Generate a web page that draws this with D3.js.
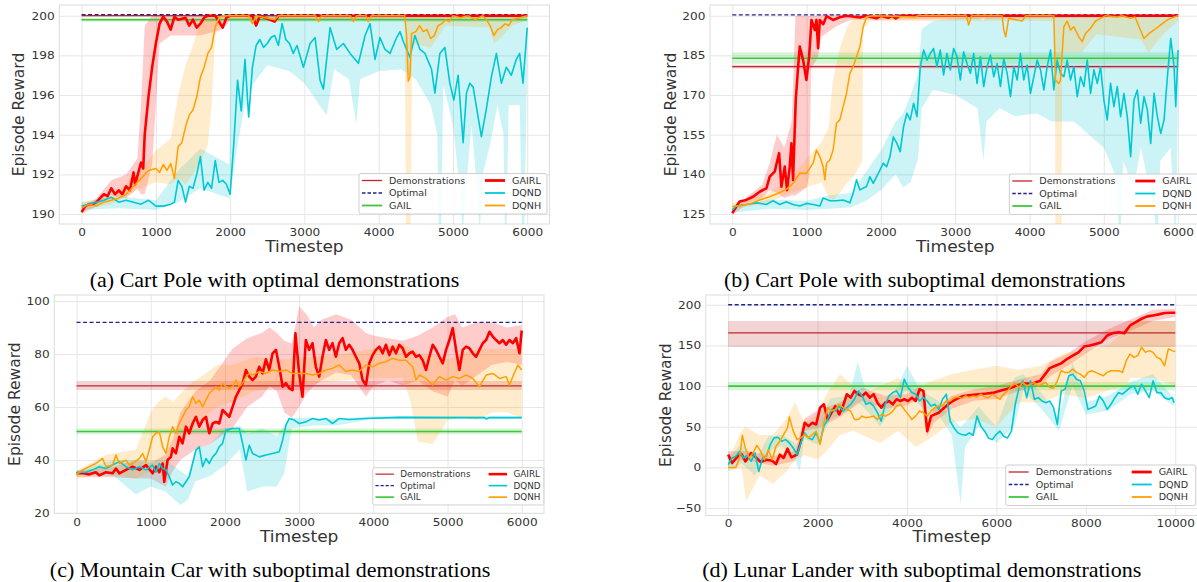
<!DOCTYPE html>
<html>
<head>
<meta charset="utf-8">
<script src="https://cdn.jsdelivr.net/npm/d3@7"></script>
<style>
  body { margin: 0; background: #fff; }
  svg { display: block; }
</style>
</head>
<body>
<div id="chart"></div>
<script>
// Four panels: episode reward vs timestep for GAIRL and baselines

var W = 1197, H = 582;
var SX = 1.1; // the source figure is a little stretched sideways

// ---------- (a) Cart Pole, optimal demos ----------
var cpOptDemo = [200.0, 199.96, 200.04];
var cpOptOptimal = 200.05;
var cpOptGail = [199.8, 199.7, 199.9];

var cpOptGairl = [[0,190.1],[50,190.4],[100,190.5],[150,190.5],[200,190.6],[250,190.8],[300,191.0],[350,190.9],[400,191.3],[450,191.0],[500,191.2],[550,191.0],[600,191.4],[650,191.2],[700,192.1],[720,191.5],[750,191.9],[800,192.6],[830,192.3],[850,194.0],[900,195.9],[950,197.4],[1000,198.6],[1050,199.6],[1100,199.95],[1150,199.7],[1200,199.3],[1250,199.95],[1300,199.8],[1400,199.9],[1450,199.5],[1500,199.8],[1550,199.4],[1600,199.6],[1650,199.9],[1700,200],[1800,200],[1850,199.7],[1900,199.4],[1950,199.9],[2000,200],[2300,200],[2350,199.5],[2400,200],[2600,199.7],[2650,200],[6000,200]];
var cpOptGairlBand = [[0,190.0,190.3],[200,190.4,190.8],[400,190.9,191.7],[600,190.8,192.0],[750,191.3,192.8],[800,191.0,195.5],[850,191.0,199.5],[950,192.5,200.0],[1000,195.5,200.0],[1050,198.6,200.0],[1200,199.0,200.0],[1600,199.0,200.0],[1900,199.3,200.0],[2000,199.8,200.05],[6000,199.9,200.05]];

var cpOptDqnh = [[0,190.3],[100,190.5],[200,190.4],[300,190.6],[400,190.7],[500,190.8],[600,191.0],[700,191.4],[800,191.8],[900,192.2],[1000,192.3],[1050,192.1],[1100,192.5],[1150,192.2],[1200,192.55],[1250,191.8],[1300,193.4],[1350,193.6],[1400,194.4],[1450,195.0],[1500,195.25],[1550,195.9],[1600,196.9],[1650,197.4],[1700,198.1],[1750,198.4],[1800,199.45],[1850,199.9],[1900,200],[2250,200],[2300,199.6],[2350,200],[2600,199.8],[2650,200],[3150,200],[3190,199.7],[3230,200],[3620,200],[3660,199.7],[3700,200],[3830,200],[3860,199.7],[3900,200],[4350,200],[4376,199.0],[4398,196.7],[4420,196.9],[4443,199.1],[4500,199.2],[4550,199.5],[4600,199.2],[4650,199.3],[4700,198.85],[4750,199.0],[4800,199.5],[4850,199.6],[4900,199.8],[4950,199.7],[5000,200],[5100,199.9],[5200,200],[5300,199.8],[5400,200],[5450,199.8],[5500,199.5],[5550,199.0],[5600,199.3],[5650,199.4],[5700,199.6],[5750,199.5],[5800,199.8],[5900,199.9],[6000,200]];
var cpOptDqnhBand = [[0,190.2,190.6],[400,190.5,190.9],[800,191.3,192.2],[1000,191.6,193.2],[1200,191.5,193.8],[1300,191.8,196.0],[1400,191.5,197.5],[1500,192.0,198.5],[1600,192.6,199.8],[1700,193.5,200],[1750,195.5,200],[1800,199.0,200],[1900,199.8,200.05],[4350,199.8,200.05],[4370,189,200.05],[4430,189,200.05],[4450,198.6,200.05],[4700,198.4,200],[4900,199.5,200],[5500,199.4,200],[5550,198.6,200],[5650,198.9,200],[5800,199.5,200],[6000,199.8,200.05]];

var cpOptDqnd = [[0,190.4],[100,190.5],[200,190.6],[300,190.7],[400,190.85],[500,190.6],[600,190.7],[700,190.6],[800,190.5],[900,190.7],[1000,190.4],[1100,190.4],[1200,190.5],[1250,190.6],[1300,191.7],[1350,191.4],[1400,190.6],[1450,191.4],[1500,191.3],[1550,192.0],[1600,192.9],[1650,191.2],[1700,191.6],[1750,191.3],[1800,192.7],[1850,191.6],[1900,191.7],[1950,191.5],[2000,191.0],[2050,193.6],[2100,196.75],[2150,195.2],[2200,197.8],[2250,194.9],[2300,197.4],[2350,198.5],[2400,198.8],[2450,198.4],[2500,198.6],[2550,198.9],[2600,199.0],[2650,198.5],[2700,199.6],[2750,198.8],[2800,198.6],[2850,198.1],[2900,198.5],[2987,197.4],[3077,198.6],[3144,198.9],[3211,196.75],[3256,196.3],[3346,199.4],[3435,198.3],[3525,198.6],[3615,198.1],[3727,197.6],[3817,199.0],[3884,199.6],[3951,197.8],[4018,198.9],[4085,198.3],[4153,198.1],[4242,198.9],[4287,199.2],[4332,198.7],[4421,197.9],[4488,199.0],[4556,198.3],[4623,198.1],[4712,197.3],[4757,196.1],[4824,198.1],[4891,198.4],[4958,196.6],[5012,195.75],[5070,197.0],[5137,193.6],[5182,196.1],[5227,196.6],[5272,196.4],[5316,195.4],[5383,193.9],[5450,195.3],[5517,196.9],[5585,198.1],[5652,196.6],[5719,197.4],[5786,197.0],[5853,197.8],[5898,198.1],[5943,196.6],[6000,199.4]];
var cpOptDqndBand = [[0,190.2,190.6],[500,190.3,190.9],[1000,190.2,190.7],[1300,190.6,192.2],[1600,191.3,193.3],[1990,190.8,192.5],[2000,191.0,199.9],[2100,193.5,199.9],[2200,195.5,199.9],[2300,196.5,200],[2500,197.5,200],[2800,197.2,200],[3000,196.6,200],[3200,195.5,199.8],[3300,195.0,200],[3400,197.3,200],[3600,196.8,200],[3700,194.5,200],[3750,196.8,200],[4000,197.2,200],[4300,197.3,200],[4500,196.8,200],[4700,195.5,200],[4790,194,200],[4810,189,200],[4840,189,200],[4870,196.5,200],[5000,194.5,200],[5100,191,200],[5130,189,200],[5160,190.5,200],[5250,194.5,200],[5330,191,200],[5360,189,200],[5400,192,200],[5500,193.5,200],[5600,195.5,200],[5680,194,200],[5700,189,200],[5720,189,200],[5750,195.5,200],[5900,195.5,200],[5930,189,200],[5960,189,200],[6000,197.5,200]];

// ---------- (b) Cart Pole, suboptimal demos ----------
var cpSubDemo = [180.7, 180.0, 181.4];
var cpSubOptimal = 200.3;
var cpSubGail = [183.9, 181.8, 186.2];

var cpSubGairl = [[0,125.3],[54,127.8],[99,129.7],[189,130.3],[279,131.5],[369,133.4],[459,134.7],[504,139.1],[571,141],[630,148],[661,135.3],[706,142.9],[737,134],[773,142.9],[796,151.7],[818,137.9],[854,168.1],[886,180.7],[908,188.3],[953,183.2],[998,175.7],[1034,184.5],[1066,198.4],[1111,194.6],[1133,198.4],[1155,187.7],[1178,198.4],[1223,196.8],[1268,199.8],[1357,198.4],[1447,199.4],[1537,200],[1717,199.3],[1800,200],[1942,199],[2000,200],[2100,199.2],[2150,200],[2200,199],[2260,200],[6000,200]];
var cpSubGairlBand = [[0,124.5,126.5],[200,129,131.5],[400,131,136],[500,134,144],[600,133,155],[700,131,150],[800,132,160],[850,132,200],[1000,135,200],[1040,140,200],[1060,180,200],[1150,184,200],[1200,192,200.5],[1400,196,200.5],[1600,198.5,200.5],[2000,198.5,200.5],[6000,199.5,200.5]];

var cpSubDqnh = [[0,127.8],[99,128.1],[234,128.8],[369,130.3],[504,131.5],[639,133.1],[728,134.3],[818,136.6],[908,140.4],[998,140.4],[1088,144.2],[1133,149.2],[1178,146.7],[1223,142.9],[1245,137.9],[1268,144.2],[1313,145.4],[1357,149.2],[1402,159.3],[1447,160.6],[1492,165.6],[1537,170.6],[1582,178.2],[1627,180.7],[1672,184.5],[1717,188.3],[1762,195.8],[1807,199.6],[1900,200],[2462,199.5],[2500,200],[3150,200],[3181,196.5],[3220,200],[3630,200],[3654,194.6],[3680,192],[3720,199],[3900,198],[3950,200],[4327,200],[4349,175.7],[4394,174.4],[4417,175.5],[4462,195.8],[4507,198],[4552,194.6],[4597,195.8],[4664,192],[4709,190.2],[4754,193.3],[4821,195.2],[4888,198],[4956,199],[5024,200],[5181,199.5],[5250,200],[5361,199],[5420,199.5],[5474,195.8],[5541,191.4],[5609,193.3],[5676,194.6],[5766,196.5],[5856,198.4],[5946,199.5],[6000,200]];
var cpSubDqnhBand = [[0,126.5,129],[500,129.5,133],[800,133,139],[1000,135,146],[1200,137,152],[1300,131,158],[1350,130,175],[1450,133,188],[1550,137,196],[1650,140,200],[1750,145,200],[1760,195,200.5],[1850,198,200.5],[4340,198,200.5],[4350,110,200.5],[4430,110,200.5],[4440,186,200.5],[4700,186,199],[4900,193,200.5],[5500,191,200],[5600,186,199.5],[5800,193,200.5],[6000,198,200.5]];

var cpSubDqnd = [[0,126.5],[54,128],[189,128.6],[324,129.2],[459,128.6],[549,130],[639,128.6],[728,129.6],[818,128.6],[908,128],[998,129],[1088,128.6],[1178,128],[1223,131],[1313,130],[1402,130],[1492,130.3],[1582,129.2],[1627,132.8],[1672,137.9],[1717,134.1],[1807,135.4],[1852,139.1],[1897,136.6],[1987,141.6],[2032,144.2],[2077,142.9],[2122,146.7],[2167,154.2],[2215,151.7],[2260,148.6],[2305,158],[2350,163.1],[2395,160.6],[2440,166.9],[2485,161.8],[2530,180.7],[2575,187],[2620,183.2],[2665,185.7],[2709,187.6],[2754,180.7],[2799,187],[2844,177.6],[2889,185.7],[2934,179.5],[2979,187.6],[3024,184.5],[3069,175.7],[3114,186.3],[3159,181.9],[3204,178.2],[3249,185.7],[3294,174.4],[3339,184.5],[3384,173.2],[3429,180.7],[3474,185.1],[3519,176.9],[3564,181.9],[3609,173.2],[3654,183.8],[3699,178.2],[3744,169.4],[3789,180.7],[3834,175.7],[3878,185.7],[3923,175.7],[3968,181.3],[4013,170.6],[4058,176.9],[4103,183.2],[4148,179.5],[4193,171.9],[4238,180.7],[4283,187],[4327,171.9],[4372,183.2],[4417,178.2],[4462,176.9],[4507,183.2],[4552,175.7],[4597,180.7],[4642,169.4],[4687,176.9],[4732,173.2],[4777,183.2],[4822,170.6],[4867,179.5],[4912,174.4],[4956,180.7],[5001,168.1],[5046,160.6],[5091,174.4],[5136,165.6],[5181,173.2],[5226,161.8],[5271,170.6],[5316,161.8],[5361,146.7],[5406,168.1],[5451,171.9],[5496,159.3],[5541,169.4],[5586,164.4],[5631,151.7],[5676,170.6],[5721,161.8],[5766,155.5],[5811,160.6],[5856,176.9],[5901,191.4],[5946,180.7],[5968,165.6],[6000,187]];
var cpSubDqndBand = [[0,125.5,127.5],[500,127,130.5],[1000,126.5,130],[1300,127,132],[1600,127.5,133],[1800,130,141],[2000,134,149],[2200,140,160],[2300,135,163],[2400,137,170],[2500,146,178],[2550,165,195],[2700,172,198],[3000,170,199],[3300,165,200],[3380,145,198],[3420,160,200],[3600,165,200],[3800,162,200],[4100,163,200],[4300,160,200],[4600,160,200],[4800,155,200],[5000,150,200],[5150,140,200],[5200,121,200],[5230,121,200],[5260,145,200],[5400,135,200],[5500,150,200],[5650,130,200],[5700,121,200],[5730,121,200],[5760,145,200],[5900,150,200],[5950,121,200],[5975,121,200],[6000,170,200]];

// ---------- (c) Mountain Car, suboptimal demos ----------
var mcDemo = [68.0, 66.4, 69.8];
var mcOptimal = 92.0;
var mcGail = [50.8, 49.7, 51.9];

var mcGairl = [[0,35.0],[81,35.1],[171,34.6],[261,35.4],[306,34.2],[396,35.4],[486,35.0],[531,36.8],[576,35.0],[666,36.3],[756,37.5],[846,36.3],[936,38.1],[1025,35.0],[1070,37.5],[1115,35.4],[1160,38.7],[1182,31.8],[1227,40],[1272,41.2],[1294,44.4],[1339,42.6],[1384,48.8],[1429,46.3],[1474,52.6],[1519,50.1],[1564,53.8],[1609,56.3],[1654,52.6],[1699,55.1],[1744,56.3],[1789,50.1],[1834,53.8],[1879,54.4],[1923,53.8],[1968,58.9],[2013,57.6],[2058,56.3],[2103,60.1],[2148,63.9],[2193,66.4],[2238,68.9],[2283,74],[2328,71.5],[2372,70.2],[2417,71.5],[2462,75.2],[2507,72.7],[2552,78],[2597,74],[2642,80.3],[2687,81.6],[2732,75.2],[2777,67.7],[2822,69],[2867,67.1],[2911,66.4],[2950,87.8],[3000,72.7],[3045,63.9],[3090,85.3],[3135,81.6],[3180,84.1],[3225,75.2],[3270,71.5],[3315,79],[3360,85.3],[3405,81.6],[3450,84.1],[3495,79],[3540,84.1],[3585,86],[3630,81.6],[3675,83.5],[3720,81.6],[3765,79],[3810,76.5],[3855,70.2],[3900,68.3],[3945,76.5],[3990,79.6],[4035,81.6],[4080,82.8],[4125,80.3],[4170,83.5],[4215,79.6],[4260,82.8],[4305,80.3],[4350,83.5],[4395,82.2],[4440,79],[4485,80.3],[4530,80.9],[4575,79],[4620,79.6],[4665,77.7],[4710,74],[4755,79],[4800,83.5],[4845,81.6],[4890,79],[4935,76.5],[4980,81.6],[5025,85.3],[5070,89.8],[5115,81.6],[5160,74],[5205,81.6],[5250,82.8],[5295,82.2],[5340,80.3],[5385,79],[5430,81.6],[5475,84.1],[5520,85.3],[5565,88.4],[5610,86.6],[5655,85.3],[5700,84.1],[5745,85.3],[5790,83.5],[5835,85.3],[5880,84.1],[5925,86],[5970,80.3],[6000,88.9]];
var mcGairlBand = [[0,33.5,36],[500,33.5,37.5],[800,33,40],[1000,33,39],[1200,30,42],[1300,36,48],[1400,40,58],[1500,42,62],[1600,44,66],[1700,45,68],[1800,46,70],[1900,48,74],[2000,50,78],[2100,52,82],[2200,56,84],[2300,60,86],[2400,62,87],[2500,64,88],[2600,68,90],[2700,66,88],[2800,58,85],[2900,56,84],[3000,60,98],[3100,65,95],[3200,68,90],[3300,70,93],[3500,73,95],[3700,72,93],[3900,64,88],[4000,68,87],[4200,70,86],[4400,68,85],[4600,70,87],[4800,66,90],[5000,64,94],[5100,70,95],[5200,68,90],[5400,72,92],[5600,76,92],[5800,77,90],[6000,76,91]];

var mcDqnh = [[0,34.4],[81,36.3],[171,37.5],[261,38.7],[351,40.6],[396,37.5],[486,38.1],[531,41.9],[576,38.7],[666,40],[711,38.1],[756,38.7],[846,40.6],[891,42.5],[936,39.4],[980,43.8],[1025,48.8],[1070,50.1],[1115,50.7],[1160,45],[1205,42.5],[1250,48.8],[1294,52.6],[1339,50.1],[1384,53.8],[1429,56.3],[1474,58.9],[1519,60.1],[1564,63.9],[1609,61.4],[1654,62.6],[1699,60.1],[1744,62.6],[1789,65.2],[1834,66.4],[1879,67.7],[1923,66.4],[1968,69],[2013,67.7],[2058,67.1],[2103,67.7],[2148,70.2],[2193,67.7],[2238,69],[2283,71.5],[2328,72.7],[2372,72.1],[2462,73.4],[2552,72.7],[2642,74],[2732,73.4],[2822,74],[2911,72.7],[3000,72.7],[3090,72.7],[3180,72.1],[3270,72.7],[3360,74],[3450,74.6],[3540,75.9],[3630,73.4],[3720,74],[3810,73.4],[3900,75.9],[3990,75.2],[4080,76.5],[4170,77.1],[4260,78.4],[4350,77.7],[4440,77.7],[4530,75.2],[4575,70.2],[4620,72.1],[4710,70.8],[4800,68.3],[4890,71.5],[4980,70.2],[5070,71.5],[5160,70.8],[5250,72.1],[5340,70.8],[5430,67.7],[5520,72.1],[5610,72.7],[5700,70.8],[5790,71.5],[5835,68.3],[5880,71.5],[5947,75.9],[6000,74]];
var mcDqnhBand = [[0,33,36],[400,35,42],[800,33,44],[1000,36,58],[1100,37,62],[1200,38,64],[1300,42,62],[1500,50,68],[1700,56,72],[1900,60,76],[2100,62,76],[2400,66,79],[2800,68,78],[3200,69,79],[3600,70,80],[4000,71,82],[4400,71,84],[4500,62,82],[4600,47,80],[4800,46,80],[5000,55,78],[5200,56,80],[5400,55,82],[5600,58,82],[5800,58,82],[6000,56,82]];

var mcDqnd = [[0,35.4],[126,35.4],[216,36.3],[306,37.5],[396,36.8],[486,38.1],[576,39.4],[666,37.5],[756,36.3],[846,37.5],[936,36.3],[1025,38.1],[1070,35.4],[1115,38.7],[1160,36.8],[1205,36.3],[1250,33.7],[1294,30.6],[1339,31.8],[1384,31.2],[1429,29.9],[1474,31.8],[1519,33.7],[1564,38.7],[1609,43.8],[1654,45],[1699,37.5],[1744,40.6],[1789,38.7],[1834,41.2],[1879,42.5],[1923,45],[1968,46.3],[2013,51.3],[2103,51.9],[2193,51.9],[2238,46.3],[2283,40],[2328,45.6],[2372,42.5],[2462,41.2],[2552,41.9],[2642,42.5],[2732,43.1],[2777,47.5],[2822,53.2],[2867,55.7],[2934,55.1],[3000,53.8],[3090,54.4],[3180,55.7],[3270,55.1],[3360,55.7],[3450,53.8],[3540,55.7],[3675,55.3],[3900,55.7],[4350,56.1],[5000,56.0],[5500,56.0],[5520,55.5],[5560,56.0],[6000,56.0]];
var mcDqndBand = [[0,34.5,36],[500,34,40],[800,27,40],[1000,30,40],[1200,28,40],[1400,23,36],[1500,25,34],[1600,32,44],[1800,34,46],[2000,38,52],[2200,44,53],[2300,28,50],[2500,30,52],[2700,30,49],[2800,35,53],[2900,52,56],[3200,53,56],[3500,53,55.5],[4000,55.5,56.5],[6000,55.5,56.5]];

// ---------- (d) Lunar Lander, suboptimal demos ----------
var llDemo = [165.5, 148, 180];
var llOptimal = 200;
var llGail = [100, 95, 105];

var llGairl = [[0,15.7],[86,5.4],[214,13.6],[300,16.5],[385,7.4],[514,17.7],[599,13.6],[728,6.6],[856,9.5],[985,8.3],[1070,4.1],[1156,15.7],[1241,11.6],[1327,23.1],[1413,12.4],[1541,15.7],[1627,32.2],[1712,54.9],[1798,50.8],[1884,54.9],[1969,52.8],[2055,73.5],[2141,77.6],[2226,59],[2312,67.3],[2397,75.5],[2483,65.2],[2569,75.5],[2654,90],[2740,85.8],[2825,94.1],[2911,90],[2997,87.9],[3082,92],[3168,85.8],[3254,90],[3339,79.6],[3425,73.5],[3510,79.6],[3596,81.7],[3682,77.6],[3767,83.8],[3853,81.7],[3938,83.8],[4024,81.7],[4110,85.8],[4195,81.7],[4281,96.1],[4367,94.1],[4452,44.6],[4538,63.1],[4623,65.2],[4709,67.3],[4795,71.4],[4880,75.5],[4966,79.6],[5052,82.5],[5137,85],[5266,87.9],[5437,89.1],[5608,90],[5779,90.8],[5951,92],[6122,94.9],[6293,97.4],[6464,101.1],[6636,103.2],[6807,103.2],[6978,106.5],[7063,112.7],[7192,122.1],[7320,125],[7449,127.9],[7577,133.3],[7706,137.4],[7834,141.5],[7963,148.6],[8091,149.8],[8220,151.9],[8348,153.9],[8477,162.2],[8605,165.1],[8733,166.3],[8862,165.1],[8990,174.5],[9118,178.7],[9247,182.8],[9375,185.7],[9504,186.9],[9632,188.2],[9761,189.8],[9889,190.2],[10000,190.2]];
var llGairlBand = [[0,10,20],[500,8,20],[1000,2,14],[1500,8,20],[1700,45,60],[2000,48,70],[2500,62,80],[3000,82,98],[3500,72,88],[4000,76,90],[4300,85,100],[4450,38,55],[4600,55,72],[5000,72,88],[5500,82,96],[6000,84,100],[6500,94,108],[7000,100,115],[7200,112,130],[7600,125,140],[8000,140,155],[8500,158,170],[9000,168,182],[9500,180,194],[10000,185,195]];

var llDqnd = [[0,3.3],[86,11.6],[171,13.6],[257,19.8],[342,11.6],[428,14.9],[514,7.4],[599,17.7],[685,-5],[770,11.6],[856,13.6],[942,28.1],[1027,36.3],[1113,37.1],[1199,32.2],[1284,34.2],[1370,30.1],[1456,23.9],[1541,15.7],[1627,30.1],[1712,42.5],[1798,36.3],[1884,34.2],[1969,42.5],[2055,30.1],[2141,50.8],[2226,59],[2312,71.4],[2397,69.3],[2483,75.5],[2569,69.3],[2654,73.5],[2740,77.6],[2825,83.8],[2911,94.1],[2997,87.9],[3082,77.6],[3168,79.6],[3254,75.5],[3339,67.3],[3425,56.9],[3510,77.6],[3596,87.9],[3682,92],[3767,94.1],[3853,85.8],[3938,108.5],[4024,98.2],[4110,92],[4195,90],[4281,81.7],[4367,85.8],[4452,81.7],[4538,75.5],[4623,77.6],[4709,71.4],[4795,83.8],[4880,90],[4966,56.9],[5052,48.7],[5137,42.5],[5223,40.4],[5309,39.6],[5394,42.5],[5480,39.6],[5566,63.1],[5651,50.8],[5737,44.6],[5822,36.3],[5908,34.2],[5993,40.4],[6079,44.6],[6164,38.4],[6250,36.3],[6336,44.6],[6421,77.6],[6507,98.2],[6593,106.5],[6678,85.8],[6764,106.5],[6849,83.8],[6935,85.8],[7021,81.7],[7106,79.6],[7192,81.7],[7278,73.5],[7363,52.8],[7449,94.1],[7534,96.1],[7620,112.7],[7706,114.7],[7791,108.5],[7877,106.5],[7963,94.1],[8048,71.4],[8134,73.5],[8220,75.5],[8305,87.9],[8391,81.7],[8477,71.4],[8562,77.6],[8648,85.8],[8733,92],[8819,90],[8905,94.1],[8990,98.2],[9076,100.3],[9161,90],[9247,102.3],[9333,94.1],[9418,85.8],[9504,106.5],[9589,92],[9675,92],[9761,85.8],[9846,83.8],[9932,85.8],[9975,79.6]];
var llDqndBand = [[0,-3,10],[300,5,30],[600,-10,8],[900,20,38],[1200,26,40],[1500,10,30],[1600,-5,25],[1700,35,50],[2000,28,55],[2300,60,85],[2700,70,88],[2900,80,130],[3100,70,90],[3400,50,70],[3800,85,100],[4000,95,125],[4300,75,95],[4700,65,82],[5000,40,60],[5200,-45,50],[5300,25,55],[5600,50,75],[6000,30,50],[6400,50,110],[6600,95,115],[7000,72,92],[7400,45,62],[7700,100,130],[8000,65,80],[8500,70,88],[9000,90,105],[9500,95,115],[9975,75,85]];

var llDqnh = [[0,0],[86,0],[171,0],[257,11.6],[317,39.6],[385,23.9],[471,11.6],[557,17.7],[642,27.2],[728,19.8],[813,9.5],[899,21.9],[985,9.5],[1070,26],[1156,32.2],[1241,40.4],[1327,48.7],[1370,61.9],[1456,44.6],[1541,34.2],[1627,36.3],[1712,40.4],[1798,36.3],[1884,40.4],[1969,44.6],[2055,28.1],[2141,54.9],[2226,73.5],[2312,69.3],[2397,71.4],[2483,77.6],[2569,73.5],[2654,71.4],[2740,69.3],[2825,59],[2911,59],[2997,63.1],[3082,61.1],[3168,61.9],[3254,63.1],[3339,59],[3425,65.2],[3510,63.1],[3596,65.2],[3682,69.3],[3767,75.5],[3853,77.6],[3938,71.4],[4024,65.2],[4110,59],[4195,63.1],[4281,69.3],[4367,67.3],[4452,63.1],[4538,69.3],[4623,73.5],[4709,75.5],[4795,75.5],[4880,81.7],[4966,81.7],[5052,85.8],[5137,86.7],[5223,85],[5309,87.9],[5394,85.8],[5480,87.9],[5566,86.7],[5651,90],[5737,86.7],[5822,85.8],[5908,90],[5993,86.7],[6079,83.8],[6164,90],[6250,94.1],[6336,100.3],[6421,103.2],[6507,98.2],[6593,104.4],[6678,100.3],[6764,102.3],[6849,104.4],[6935,100.3],[7021,102.3],[7106,104.4],[7192,98.2],[7278,97.4],[7363,106.5],[7449,118.8],[7534,116.8],[7620,116.8],[7706,120.9],[7791,116.8],[7877,114.7],[7963,110.6],[8048,116.8],[8134,118.8],[8220,116.8],[8305,114.7],[8391,112.7],[8477,116.8],[8562,118.8],[8648,118.8],[8733,118.8],[8819,116.8],[8905,131.2],[8990,139.5],[9076,135.3],[9161,137.4],[9247,147.7],[9333,141.5],[9418,143.6],[9504,141.5],[9589,135.3],[9675,133.3],[9761,125],[9846,145.7],[9932,143.6],[10000,142.4]];
var llDqnhBand = [[0,-5,10],[300,0,45],[400,-42,50],[700,-10,40],[1000,-20,40],[1300,-5,60],[1500,10,80],[1700,15,55],[2000,10,65],[2200,20,90],[2500,40,115],[2800,45,100],[3000,40,90],[3400,30,100],[3800,45,110],[4200,25,95],[4500,35,105],[5000,55,115],[5500,60,120],[6000,50,125],[6500,80,120],[7000,80,125],[7500,90,140],[8000,85,145],[8500,95,150],[8900,100,170],[9000,110,180],[9500,110,180],[10000,100,180]];

// ---------- ticks, labels ----------
var cpTicksX = [0, 1000, 2000, 3000, 4000, 5000, 6000];
var llTicksX = [0, 2000, 4000, 6000, 8000, 10000];
var cpOptTicksY = [190, 192, 194, 196, 198, 200];
var cpSubTicksY = [125, 140, 155, 170, 185, 200];
var mcTicksY = [20, 40, 60, 80, 100];
var llTicksY = [-50, 0, 50, 100, 150, 200];

var captions = [
    "(a) Cart Pole with optimal demonstrations",
    "(b) Cart Pole with suboptimal demonstrations",
    "(c) Mountain Car with suboptimal demonstrations",
    "(d) Lunar Lander with suboptimal demonstrations"
];
var legendLeft = ["Demonstrations", "Optimal", "GAIL"];
var legendRight = ["GAIRL", "DQND", "DQNH"];

var colors = {
    demo: "#c0272d",
    optimal: "#23238e",
    gail: "#3cc83c",
    gairl: "#ff0000",
    dqnd: "#00c8d2",
    dqnh: "#ffa000"
};

// layout of each panel (pixels), data pulled from the arrays above
var panels = [
    { box: {l: 59.3, r: 549.5, t: 5, b: 224}, xDom: [-300, 6300], yDom: [189.5, 200.54], tmax: 6000,
      xTicks: cpTicksX, yTicks: cpOptTicksY,
      demo: cpOptDemo, optimal: cpOptOptimal, gail: cpOptGail,
      gairl: cpOptGairl, gairlBand: cpOptGairlBand, dqnd: cpOptDqnd, dqndBand: cpOptDqndBand, dqnh: cpOptDqnh, dqnhBand: cpOptDqnhBand,
      ylabX: 18, tickY: 236, xlabY: 252, cap: captions[0], capX: 274.5, capY: 287,
      legend: {x: 359, y: 173.5, w: 188, s: 1} },
    { box: {l: 710, r: 1200.4, t: 5, b: 224}, xDom: [-300, 6300], yDom: [121.2, 204.05], tmax: 6000,
      xTicks: cpTicksX, yTicks: cpSubTicksY,
      demo: cpSubDemo, optimal: cpSubOptimal, gail: cpSubGail,
      gairl: cpSubGairl, gairlBand: cpSubGairlBand, dqnd: cpSubDqnd, dqndBand: cpSubDqndBand, dqnh: cpSubDqnh, dqnhBand: cpSubDqnhBand,
      ylabX: 670, tickY: 236, xlabY: 252, cap: captions[1], capX: 924.7, capY: 287,
      legend: {x: 1009.3, y: 174, w: 192, s: 1} },
    { box: {l: 54.3, r: 544, t: 295, b: 513.3}, xDom: [-300, 6300], yDom: [19.9, 102.3], tmax: 6000,
      xTicks: cpTicksX, yTicks: mcTicksY,
      demo: mcDemo, optimal: mcOptimal, gail: mcGail,
      gairl: mcGairl, gairlBand: mcGairlBand, dqnd: mcDqnd, dqndBand: mcDqndBand, dqnh: mcDqnh, dqnhBand: mcDqnhBand,
      ylabX: 14, tickY: 526, xlabY: 542, cap: captions[2], capX: 270, capY: 576.5,
      legend: {x: 372.7, y: 467.7, w: 186, s: 0.92} },
    { box: {l: 705.8, r: 1197.6, t: 295, b: 515.5}, xDom: [-500, 10500], yDom: [-59.1, 212], tmax: 10000,
      xTicks: llTicksX, yTicks: llTicksY,
      demo: llDemo, optimal: llOptimal, gail: llGail,
      gairl: llGairl, gairlBand: llGairlBand, dqnd: llDqnd, dqndBand: llDqndBand, dqnh: llDqnh, dqnhBand: llDqnhBand,
      ylabX: 665, tickY: 527, xlabY: 542, cap: captions[3], capX: 921.7, capY: 576.5,
      legend: {x: 1005.7, y: 465, w: 190, s: 1} }
];

var svg = d3.select('#chart')
    .append('svg')
    .attr('width', W)
    .attr('height', H);

var defs = svg.append('defs');

function stretchText(sel) {
    // widen text a bit, keeping the anchor point in place
    sel.each(function() {
        var t = d3.select(this);
        var old = t.attr('transform') || '';
        t.attr('transform', old + ' scale(' + SX + ',1)');
    });
}

panels.forEach(function(p, i) {
    var b = p.box;
    var x = d3.scaleLinear().domain(p.xDom).range([b.l, b.r]);
    var y = d3.scaleLinear().domain(p.yDom).range([b.b, b.t]);

    var g = svg.append('g');

    defs.append('clipPath')
        .attr('id', 'clip' + i)
        .append('rect')
        .attr('x', b.l).attr('y', b.t)
        .attr('width', b.r - b.l).attr('height', b.b - b.t);

    // grid
    g.append('g')
        .attr('class', 'grid')
        .attr('transform', 'translate(0,' + b.b + ')')
        .call(d3.axisBottom(x).tickValues(p.xTicks).tickSize(-(b.b - b.t)).tickFormat(''));
    g.append('g')
        .attr('class', 'grid')
        .attr('transform', 'translate(' + b.l + ',0)')
        .call(d3.axisLeft(y).tickValues(p.yTicks).tickSize(-(b.r - b.l)).tickFormat(''));
    g.selectAll('.grid .domain').remove();
    g.selectAll('.grid line').attr('stroke', '#e6e6e6').attr('stroke-width', 1);

    g.append('rect')
        .attr('x', b.l).attr('y', b.t)
        .attr('width', b.r - b.l).attr('height', b.b - b.t)
        .attr('fill', 'none')
        .attr('stroke', '#dcdcdc')
        .attr('stroke-width', 1);

    // tick labels
    var xa = g.append('g')
        .attr('transform', 'translate(0,' + b.b + ')')
        .call(d3.axisBottom(x).tickValues(p.xTicks).tickSize(0).tickPadding(p.tickY - b.b - 7.8).tickFormat(d3.format('d')));
    var ya = g.append('g')
        .attr('transform', 'translate(' + b.l + ',0)')
        .call(d3.axisLeft(y).tickValues(p.yTicks).tickSize(0).tickPadding(4.2).tickFormat(d3.format('d')));
    [xa, ya].forEach(function(a) {
        a.select('.domain').remove();
        a.selectAll('text')
            .attr('font-family', 'DejaVu Sans, sans-serif')
            .attr('font-size', 11)
            .attr('fill', '#333');
        stretchText(a.selectAll('text'));
    });

    // axis titles
    g.append('text')
        .attr('transform', 'translate(' + p.ylabX + ',' + ((b.t + b.b) / 2) + ') rotate(-90)')
        .attr('text-anchor', 'middle')
        .attr('dy', '0.36em')
        .attr('font-family', 'DejaVu Sans, sans-serif')
        .attr('font-size', 15.5)
        .attr('fill', '#333')
        .text('Episode Reward');

    g.append('text')
        .attr('transform', 'translate(' + ((b.l + b.r) / 2) + ',' + p.xlabY + ') scale(' + SX + ',1)')
        .attr('text-anchor', 'middle')
        .attr('font-family', 'DejaVu Sans, sans-serif')
        .attr('font-size', 15.5)
        .attr('fill', '#333')
        .text('Timestep');

    // caption
    svg.append('text')
        .attr('transform', 'translate(' + p.capX + ',' + p.capY + ') scale(' + SX + ',1)')
        .attr('text-anchor', 'middle')
        .attr('font-family', 'Liberation Serif, Times New Roman, serif')
        .attr('font-size', 20)
        .attr('fill', '#000')
        .text(p.cap);

    // data
    var plot = g.append('g').attr('clip-path', 'url(#clip' + i + ')');

    var area = d3.area()
        .x(function(d) { return x(d[0]); })
        .y0(function(d) { return y(d[1]); })
        .y1(function(d) { return y(d[2]); });
    var line = d3.line()
        .x(function(d) { return x(d[0]); })
        .y(function(d) { return y(d[1]); });

    var flatBand = function(v) { return [[0, v[1], v[2]], [p.tmax, v[1], v[2]]]; };
    var flatLine = function(v) { return [[0, v], [p.tmax, v]]; };

    var bands = [
        [flatBand(p.demo), colors.demo],
        [flatBand(p.gail), colors.gail],
        [p.gairlBand, colors.gairl],
        [p.dqndBand, colors.dqnd],
        [p.dqnhBand, colors.dqnh]
    ];
    bands.forEach(function(bd) {
        plot.append('path')
            .datum(bd[0])
            .attr('d', area)
            .attr('fill', bd[1])
            .attr('fill-opacity', 0.2)
            .attr('stroke', 'none');
    });

    var lines = [
        [flatLine(p.demo[0]), colors.demo, 1.3, null],
        [flatLine(p.optimal), colors.optimal, 1.3, '4,2.5'],
        [flatLine(p.gail[0]), colors.gail, 1.6, null],
        [p.gairl, colors.gairl, 2.6, null],
        [p.dqnd, colors.dqnd, 1.6, null],
        [p.dqnh, colors.dqnh, 1.5, null]
    ];
    lines.forEach(function(ln) {
        plot.append('path')
            .datum(ln[0])
            .attr('d', line)
            .attr('fill', 'none')
            .attr('stroke', ln[1])
            .attr('stroke-width', ln[2])
            .attr('stroke-linejoin', 'round')
            .attr('stroke-dasharray', ln[3]);
    });

    // legend
    var L = p.legend;
    var lg = g.append('g')
        .attr('transform', 'translate(' + L.x + ',' + L.y + ') scale(' + L.s + ')');
    lg.append('rect')
        .attr('x', 0).attr('y', 0)
        .attr('width', L.w).attr('height', 40.5)
        .attr('rx', 2)
        .attr('fill', '#fff')
        .attr('fill-opacity', 0.85)
        .attr('stroke', '#cfcfcf')
        .attr('stroke-width', 1);

    var rows = [7, 19.5, 32];
    var leftStyle = [[colors.demo, 1.3, null], [colors.optimal, 1.3, '3.5,2'], [colors.gail, 1.8, null]];
    var rightStyle = [[colors.gairl, 2.8, null], [colors.dqnd, 1.8, null], [colors.dqnh, 1.8, null]];

    function legendCol(names, styles, x0) {
        names.forEach(function(name, k) {
            lg.append('line')
                .attr('x1', x0).attr('x2', x0 + 20)
                .attr('y1', rows[k]).attr('y2', rows[k])
                .attr('stroke', styles[k][0])
                .attr('stroke-width', styles[k][1])
                .attr('stroke-dasharray', styles[k][2]);
            lg.append('text')
                .attr('transform', 'translate(' + (x0 + 27) + ',' + rows[k] + ') scale(' + SX + ',1)')
                .attr('dy', '0.36em')
                .attr('font-family', 'DejaVu Sans, sans-serif')
                .attr('font-size', 8.7)
                .attr('fill', '#333')
                .text(name);
        });
    }
    legendCol(legendLeft, leftStyle, 3);
    legendCol(legendRight, rightStyle, 126);
});
</script>
</body>
</html>
